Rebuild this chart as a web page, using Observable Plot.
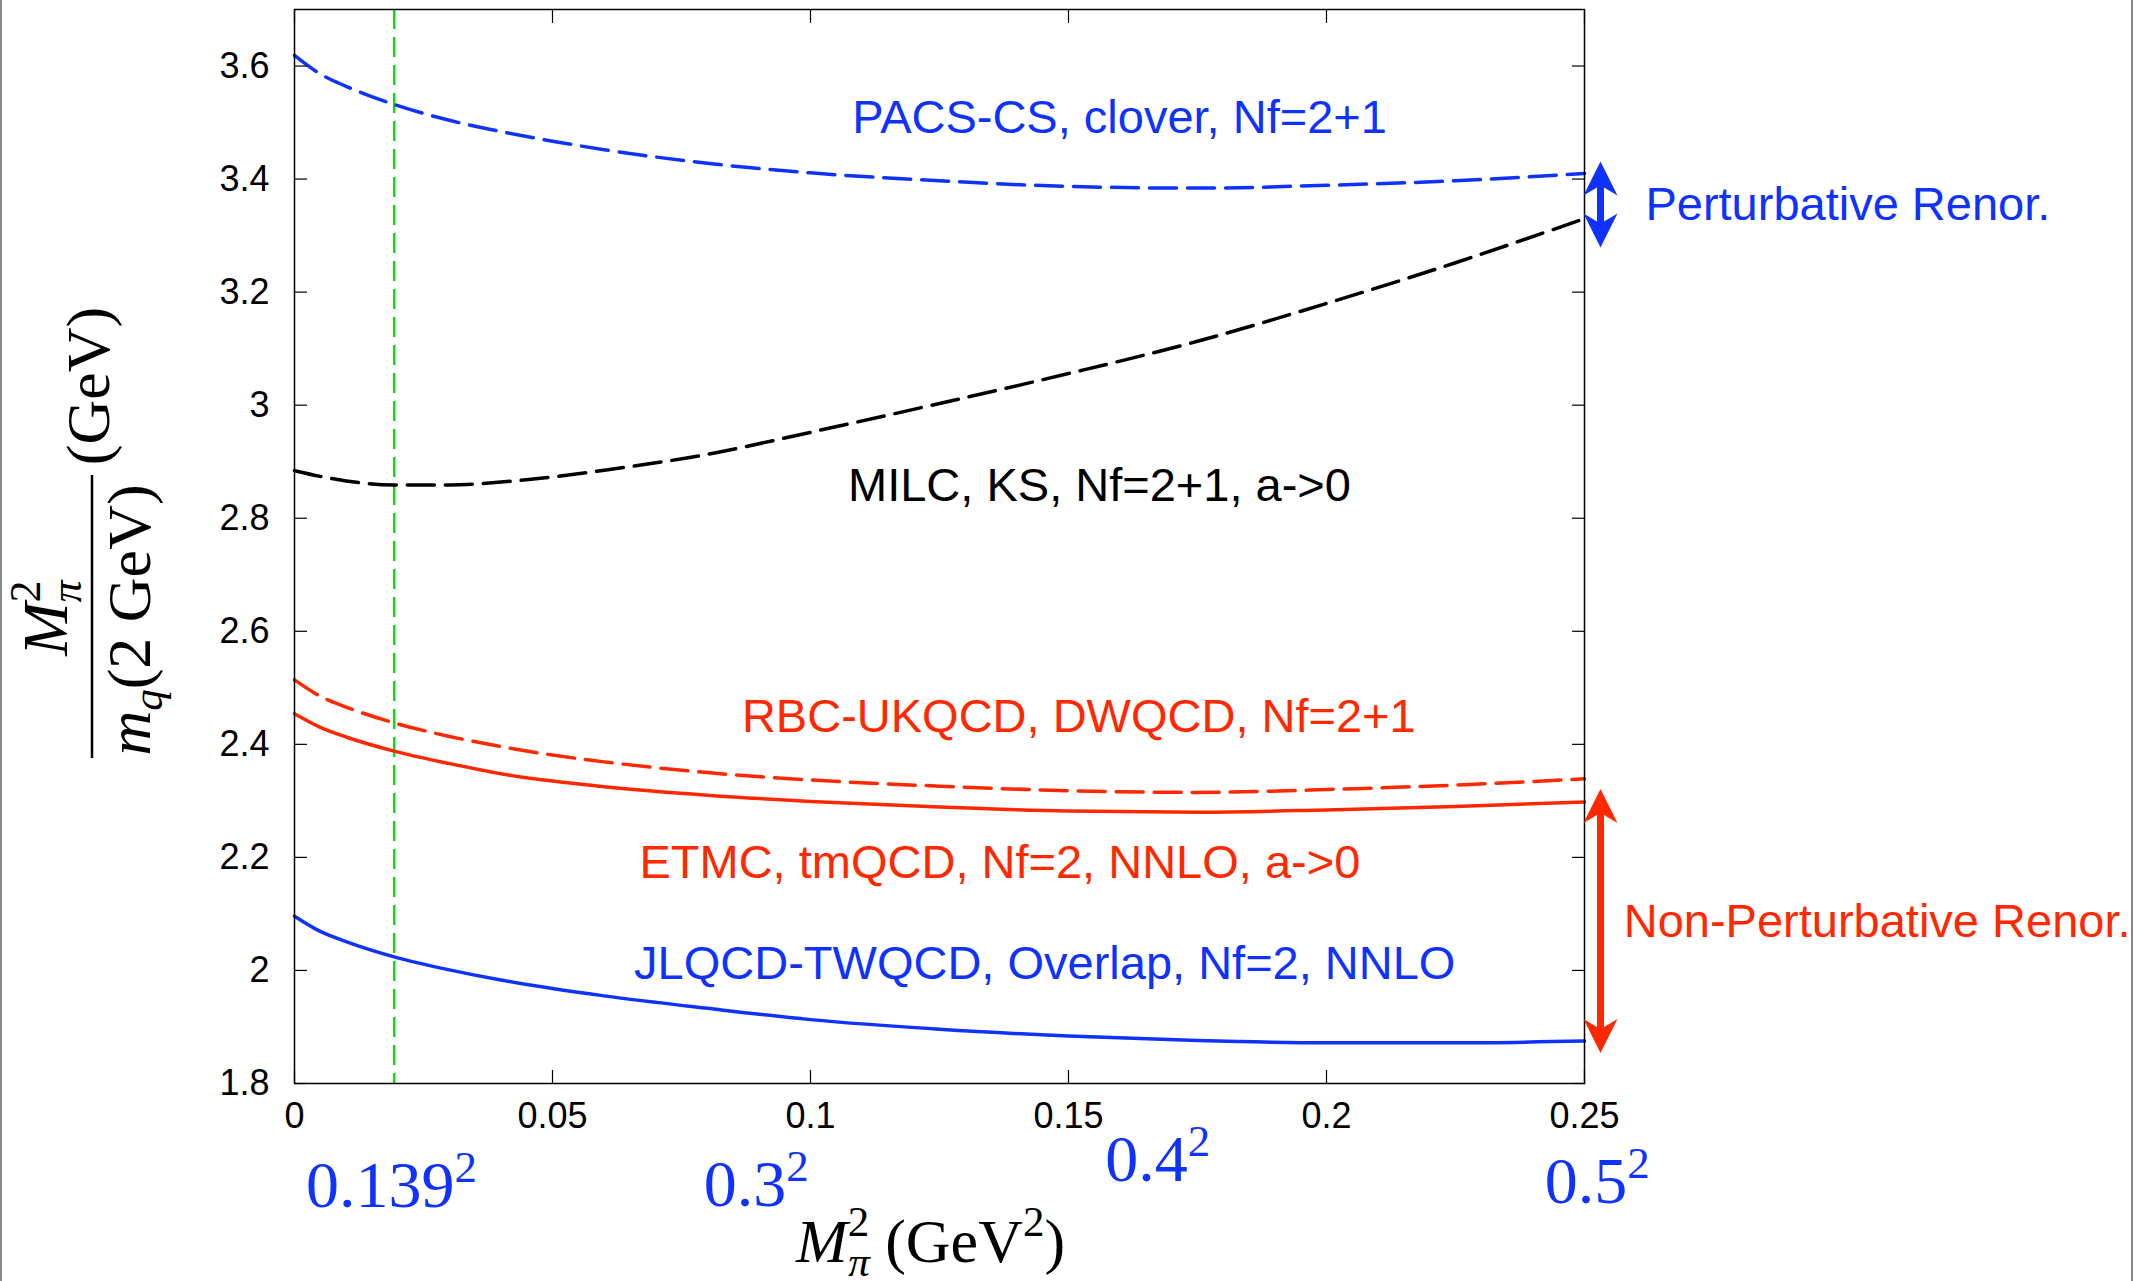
<!DOCTYPE html>
<html><head><meta charset="utf-8">
<script src="https://cdn.jsdelivr.net/npm/d3@7"></script>
<script src="https://cdn.jsdelivr.net/npm/@observablehq/plot@0.6"></script>
<style>
body{margin:0;background:#fff;}
#wrap{position:relative;width:2134px;height:1281px;overflow:hidden;background:#fff;}
.edge{position:absolute;top:0;width:2px;height:1281px;background:#8a8a8a;z-index:2;}
</style></head>
<body><div id="wrap"><div class="edge" style="left:0"></div><div class="edge" style="left:2131px"></div></div>
<script>
// ---- data ----
const xs    = [0, 0.005, 0.01, 0.0193, 0.03, 0.04, 0.05, 0.06, 0.08, 0.1, 0.125, 0.15, 0.175, 0.2, 0.225, 0.25];
const pacs  = [3.619, 3.586, 3.564, 3.532, 3.504, 3.484, 3.467, 3.452, 3.428, 3.411, 3.397, 3.387, 3.384, 3.389, 3.397, 3.410];
const milc  = [2.884, 2.874, 2.866, 2.859, 2.859, 2.864, 2.873, 2.885, 2.913, 2.952, 3.003, 3.056, 3.113, 3.180, 3.252, 3.330];
const rbc   = [2.514, 2.485, 2.466, 2.438, 2.414, 2.396, 2.381, 2.369, 2.350, 2.337, 2.326, 2.318, 2.315, 2.320, 2.328, 2.339];
const etmc  = [2.454, 2.430, 2.413, 2.388, 2.366, 2.348, 2.335, 2.325, 2.310, 2.299, 2.289, 2.282, 2.280, 2.284, 2.290, 2.298];
const jlqcd = [2.096, 2.069, 2.051, 2.024, 2.001, 1.983, 1.968, 1.955, 1.933, 1.913, 1.896, 1.884, 1.876, 1.872, 1.872, 1.875];

const blue = "#1032ff", red = "#ff2800", green = "#11dd11";
const seriesValues = [pacs, milc, rbc, etmc, jlqcd];
const seriesColor  = [blue, "#000000", red, red, blue];
const seriesDash   = ["27,11", "27,11", "27,11", null, null];

const xTicks = [0, 0.05, 0.1, 0.15, 0.2, 0.25];
const yTicks = [1.8, 2.0, 2.2, 2.4, 2.6, 2.8, 3.0, 3.2, 3.4, 3.6];
const physicalPoint = 0.139 * 0.139;

const labelText  = ["PACS-CS, clover, Nf=2+1", "MILC, KS, Nf=2+1, a->0", "RBC-UKQCD, DWQCD, Nf=2+1", "ETMC, tmQCD, Nf=2, NNLO, a->0", "JLQCD-TWQCD, Overlap, Nf=2, NNLO"];
const labelX     = [0.1599, 0.1560, 0.1520, 0.1367, 0.1454];
const labelY     = [3.482, 2.831, 2.422, 2.164, 1.985];
const labelColor = [blue, "#000000", red, red, blue];

const annText  = ["Perturbative Renor.", "Non-Perturbative Renor."];
const annX     = [0.2618, 0.2576];
const annY     = [3.327, 2.059];
const annColor = [blue, red];

const arrowX      = [0.2531, 0.2531];
const arrowTop    = [3.431, 2.321];
const arrowBottom = [3.279, 1.854];
const arrowColor  = [blue, red];

const massBase = ["0.139", "0.3", "0.4", "0.5"];
const massExp  = ["2", "2", "2", "2"];
const massJoin = [0.0310, 0.0953, 0.1731, 0.2583];
const massY    = [1.581, 1.583, 1.627, 1.588];

// ---- marks ----
const sans = "'Liberation Sans', Arial, Helvetica, sans-serif";
const serif = "'Liberation Serif', 'Times New Roman', serif";
const barb = {draw(ctx) { ctx.moveTo(0, 0); ctx.lineTo(17, 34); ctx.lineTo(3.5, 26); ctx.lineTo(-3.5, 26); ctx.lineTo(-17, 34); ctx.closePath(); }};

const marks = [
  Plot.ruleX([physicalPoint], {stroke: green, strokeWidth: 2.5, strokeDasharray: "20,8"}),
];
seriesValues.forEach((vals, s) => {
  const rows = xs.map((x, i) => ({x, y: vals[i]}));
  marks.push(Plot.line(rows, {x: "x", y: "y", stroke: seriesColor[s], strokeWidth: 3.5,
    strokeDasharray: seriesDash[s] ?? undefined, curve: "monotone-x"}));
});
marks.push(
  Plot.frame({stroke: "#000", strokeWidth: 1.5}),
  Plot.axisY({anchor: "left", ticks: yTicks, tickSize: -13, tickPadding: 38, tickFormat: d3.format("~g"),
    fontSize: 36, fontFamily: sans, label: null, strokeWidth: 1.2, fill: "#000"}),
  Plot.axisY({anchor: "right", ticks: yTicks, tickSize: -13, tickFormat: () => "", label: null, strokeWidth: 1.2}),
  Plot.axisX({anchor: "bottom", ticks: xTicks, tickSize: -13, tickPadding: 32, tickFormat: d3.format("~g"),
    fontSize: 36, fontFamily: sans, label: null, strokeWidth: 1.2, fill: "#000"}),
  Plot.axisX({anchor: "top", ticks: xTicks, tickSize: -13, tickFormat: () => "", label: null, strokeWidth: 1.2})
);
labelText.forEach((t, i) => marks.push(Plot.text([t], {x: () => labelX[i], y: () => labelY[i], text: d => d,
  fill: labelColor[i], fontSize: 47, fontFamily: sans, textAnchor: "middle", lineAnchor: "bottom"})));
annText.forEach((t, i) => marks.push(Plot.text([t], {x: () => annX[i], y: () => annY[i], text: d => d,
  fill: annColor[i], fontSize: 47, fontFamily: sans, textAnchor: "start", lineAnchor: "bottom"})));
massBase.forEach((t, i) => marks.push(
  Plot.text([t], {x: () => massJoin[i], y: () => massY[i], text: d => d,
    fill: blue, fontSize: 66, fontFamily: serif, textAnchor: "end", lineAnchor: "bottom"}),
  Plot.text([massExp[i]], {x: () => massJoin[i], y: () => massY[i], text: d => d, dy: -25,
    fill: blue, fontSize: 45, fontFamily: serif, textAnchor: "start", lineAnchor: "bottom"})
));
arrowX.forEach((ax, i) => {
  marks.push(
    Plot.ruleX([ax], {x: d => d, y1: arrowTop[i], y2: arrowBottom[i], stroke: arrowColor[i], strokeWidth: 7, insetTop: 24, insetBottom: 24}),
    Plot.dot([ax], {x: d => d, y: arrowTop[i], symbol: barb, fill: arrowColor[i], stroke: null, r: 10}),
    Plot.dot([ax], {x: d => d, y: arrowBottom[i], symbol: barb, rotate: 180, fill: arrowColor[i], stroke: null, r: 10})
  );
});

const chart = Plot.plot({
  width: 2134, height: 1281,
  marginLeft: 294, marginRight: 550, marginTop: 9, marginBottom: 198,
  x: {domain: [0, 0.25]},
  y: {domain: [1.8, 3.7]},
  style: {fontFamily: sans, background: "white", overflow: "visible"},
  marks
});

// ---- axis titles (math-style text) ----
const svg = d3.select(chart);
const g = svg.append("g").attr("font-family", serif).attr("fill", "#000");
function math(x, y, rotate, size, anchor, parts) {
  const t = g.append("text").attr("transform", `translate(${x},${y})` + (rotate ? ` rotate(${rotate})` : ""))
    .attr("font-size", size).attr("text-anchor", anchor);
  for (const p of parts) {
    const s = t.append("tspan").text(p.t);
    if (p.i) s.attr("font-style", "italic");
    if (p.fs) s.attr("font-size", p.fs);
    if (p.dx) s.attr("dx", p.dx);
    if (p.dy) s.attr("dy", p.dy);
  }
}
// y title: M_pi^2 / m_q(2 GeV) (GeV)
math(67, 618, -90, 64, "middle", [{t: "M", i: 1}, {t: "2", fs: 44, dy: -27}, {t: "π", i: 1, fs: 44, dx: -22, dy: 41}]);
g.append("line").attr("x1", 92).attr("x2", 92).attr("y1", 475).attr("y2", 758).attr("stroke", "#000").attr("stroke-width", 2.5);
math(150, 620, -90, 62, "middle", [{t: "m", i: 1}, {t: "q", i: 1, fs: 43, dy: 12}, {t: "(2 GeV)", dy: -12}]);
math(109, 386, -90, 62, "middle", [{t: "(GeV)"}]);
// x title: M_pi^2 (GeV^2)
math(796, 1262, 0, 62, "start", [{t: "M", i: 1}, {t: "2", fs: 43, dy: -26}, {t: "π", i: 1, fs: 43, dx: -21, dy: 40},
  {t: " (GeV", dy: -14}, {t: "2", fs: 43, dy: -26}, {t: ")", dy: 26}]);

document.getElementById("wrap").appendChild(chart);
</script>
</body></html>
